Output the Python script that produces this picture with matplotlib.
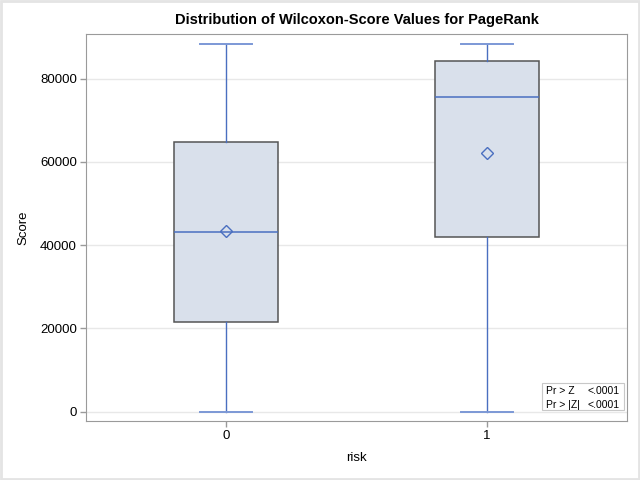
#!/usr/bin/env python

import matplotlib.pyplot as plt
from matplotlib.patches import Rectangle

plt.rcParams['font.family'] = ['Liberation Sans', 'DejaVu Sans']

# Wilcoxon scores per risk group
groups = ['0', '1']
whis_low = [0, 0]
q1 = [21600, 42050]
median = [43250, 75450]
q3 = [64700, 84100]
whis_high = [88170, 88170]
means = [43300, 62200]
tests = ['Pr > Z', 'Pr > |Z|']
pvalues = ['<.0001', '<.0001']

blue = '#4a6fc0'
cap_blue = '#7c98d6'
box_fill = '#d9e0eb'
box_edge = '#555555'
axis_gray = '#9a9a9a'

fig = plt.figure(figsize=(6.4, 4.8), dpi=100)
fig.patches.append(Rectangle((0.002, 0.002), 0.996, 0.996, transform=fig.transFigure,
                             fill=False, edgecolor='#e4e4e4', linewidth=2))
ax = fig.add_axes([86 / 640, 59 / 480, 541 / 640, 387 / 480])

stats = []
for i, g in enumerate(groups):
    stats.append({'label': g, 'whislo': whis_low[i], 'q1': q1[i], 'med': median[i],
                  'q3': q3[i], 'whishi': whis_high[i], 'mean': means[i], 'fliers': []})

ax.bxp(stats, positions=range(len(groups)), widths=0.4, patch_artist=True,
       showmeans=True, showfliers=False,
       boxprops=dict(facecolor=box_fill, edgecolor=box_edge, linewidth=1.1),
       medianprops=dict(color=blue, linewidth=1.1),
       whiskerprops=dict(color=blue, linewidth=1),
       capprops=dict(color=cap_blue, linewidth=1.4),
       capwidths=0.2,
       meanprops=dict(marker='D', markersize=6.5, markerfacecolor='none',
                      markeredgecolor=blue, markeredgewidth=1),
       zorder=3)

ax.set_xlim(-0.536, 1.536)
ax.set_ylim(-2235, 90690)
ax.set_yticks([0, 20000, 40000, 60000, 80000])
ax.set_xticks([0, 1])
ax.set_xticklabels(groups)
ax.yaxis.grid(True, color='#e8e8e8', linewidth=1, zorder=0)
ax.set_axisbelow(True)
for s in ax.spines.values():
    s.set_color(axis_gray)
ax.tick_params(colors=axis_gray, labelcolor='black', labelsize=9.5, length=4, width=1,
               pad=2.5)

ax.set_xlabel('risk', fontsize=9.5, labelpad=7)
ax.set_ylabel('Score', fontsize=9.5, labelpad=7.5)
ax.set_title('Distribution of Wilcoxon-Score Values for PageRank',
             fontsize=10.5, fontweight='bold', pad=7)

# inset with test p-values
inset = Rectangle((542, 70), 82, 27, transform=None, facecolor='white',
                  edgecolor='#c8c8c8', linewidth=0.8, zorder=5)
ax.add_patch(inset)
for i in range(len(tests)):
    y = 480 - 391 - i * 14.5
    ax.text(546 / 640, y / 480, tests[i], transform=fig.transFigure,
            fontsize=7.5, va='center', zorder=6)
    ax.text(587 / 640, y / 480, pvalues[i], transform=fig.transFigure,
            fontsize=7.5, va='center', zorder=6)

fig.savefig('out.png', dpi=100)
